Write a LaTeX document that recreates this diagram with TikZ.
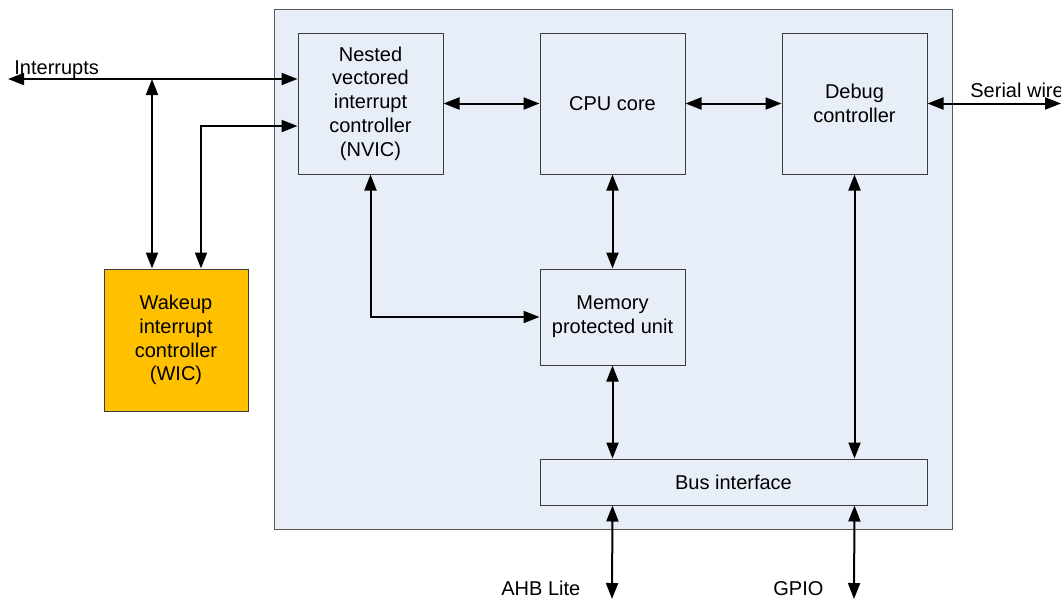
\documentclass[tikz,border=0pt]{standalone}
\usepackage{fontspec}
\setmainfont{Liberation Sans}
\usetikzlibrary{positioning, arrows.meta}
\definecolor{corefill}{RGB}{232,238,247}
\definecolor{wicfill}{RGB}{255,192,0}
\definecolor{edge}{RGB}{60,60,60}

\tikzset{
  blk/.style={draw=edge, line width=0.5pt, fill=corefill, align=center, minimum width=72.5pt, minimum height=70.5pt, inner sep=2pt, font=\fontsize{10pt}{11.85pt}\selectfont},
  bus/.style={{Triangle[length=8pt,width=6pt]}-{Triangle[length=8pt,width=6pt]}, line width=1pt},
  lbl/.style={inner sep=0pt, font=\fontsize{10pt}{12pt}\selectfont}
}

\begin{document}
\begin{tikzpicture}[x=0.5pt, y=-0.5pt, node distance=48pt]
	\useasboundingbox (0,0) rectangle (1061,601);
	% processor outline
	\node[draw=edge!85, line width=0.5pt, fill=corefill, minimum width=339pt, minimum height=260pt] (core) at (613,269) {};
	\node[blk] (nvic) at (370.5,103.5) {Nested\\vectored\\interrupt\\controller\\(NVIC)};
	\node[blk, right=of nvic] (cpu) {CPU core};
	\node[blk, right=of cpu] (dbg) {Debug\\controller};
	\node[blk, minimum height=48pt, below=47pt of cpu] (mpu) {Memory\\protected unit};
	\node[blk, minimum width=193.5pt, minimum height=23pt, below=46.5pt of mpu.south west, anchor=north west] (busif) {Bus interface};
	\node[blk, fill=wicfill, minimum width=72pt, minimum height=71pt] (wic) at (176,340) {Wakeup\\interrupt\\controller\\(WIC)};
	% free ends
	\coordinate (irqL) at (8,79);
	\coordinate (tapA) at (152,79);
	\coordinate (tapB) at (201,126);
	\coordinate (swR) at (1061,103.5);
	\coordinate (ahb) at (612,599);
	\coordinate (gpio) at (854,599);
	% connectors
	\draw[bus] (irqL) -- (irqL -| nvic.west);
	\draw[bus] (wic.north -| tapA) -- (tapA);
	\draw[bus] (wic.north -| tapB) -- (tapB) -- (tapB -| nvic.west);
	\draw[bus] (nvic) -- (cpu);
	\draw[bus] (cpu) -- (dbg);
	\draw[bus] (dbg.east) -- (swR);
	\draw[bus] (cpu) -- (mpu);
	\draw[bus] (nvic.south) |- (mpu.west);
	\draw[bus] (mpu.south) -- (mpu.south |- busif.north);
	\draw[bus] (dbg.south) -- (dbg.south |- busif.north);
	\draw[bus] (busif.south -| mpu.south) -- (ahb);
	\draw[bus] (busif.south -| dbg.south) -- (gpio);
	% labels
	\node[lbl, anchor=base west] (irqtxt) at (14,74) {Interrupts};
	\node[lbl, anchor=base west] (swtxt) at (970,97) {Serial wire};
	\node[lbl, anchor=base west] (ahbtxt) at (501,595) {AHB Lite};
	\node[lbl, anchor=base west] (gpiotxt) at (773,595) {GPIO};
\end{tikzpicture}
\end{document}
